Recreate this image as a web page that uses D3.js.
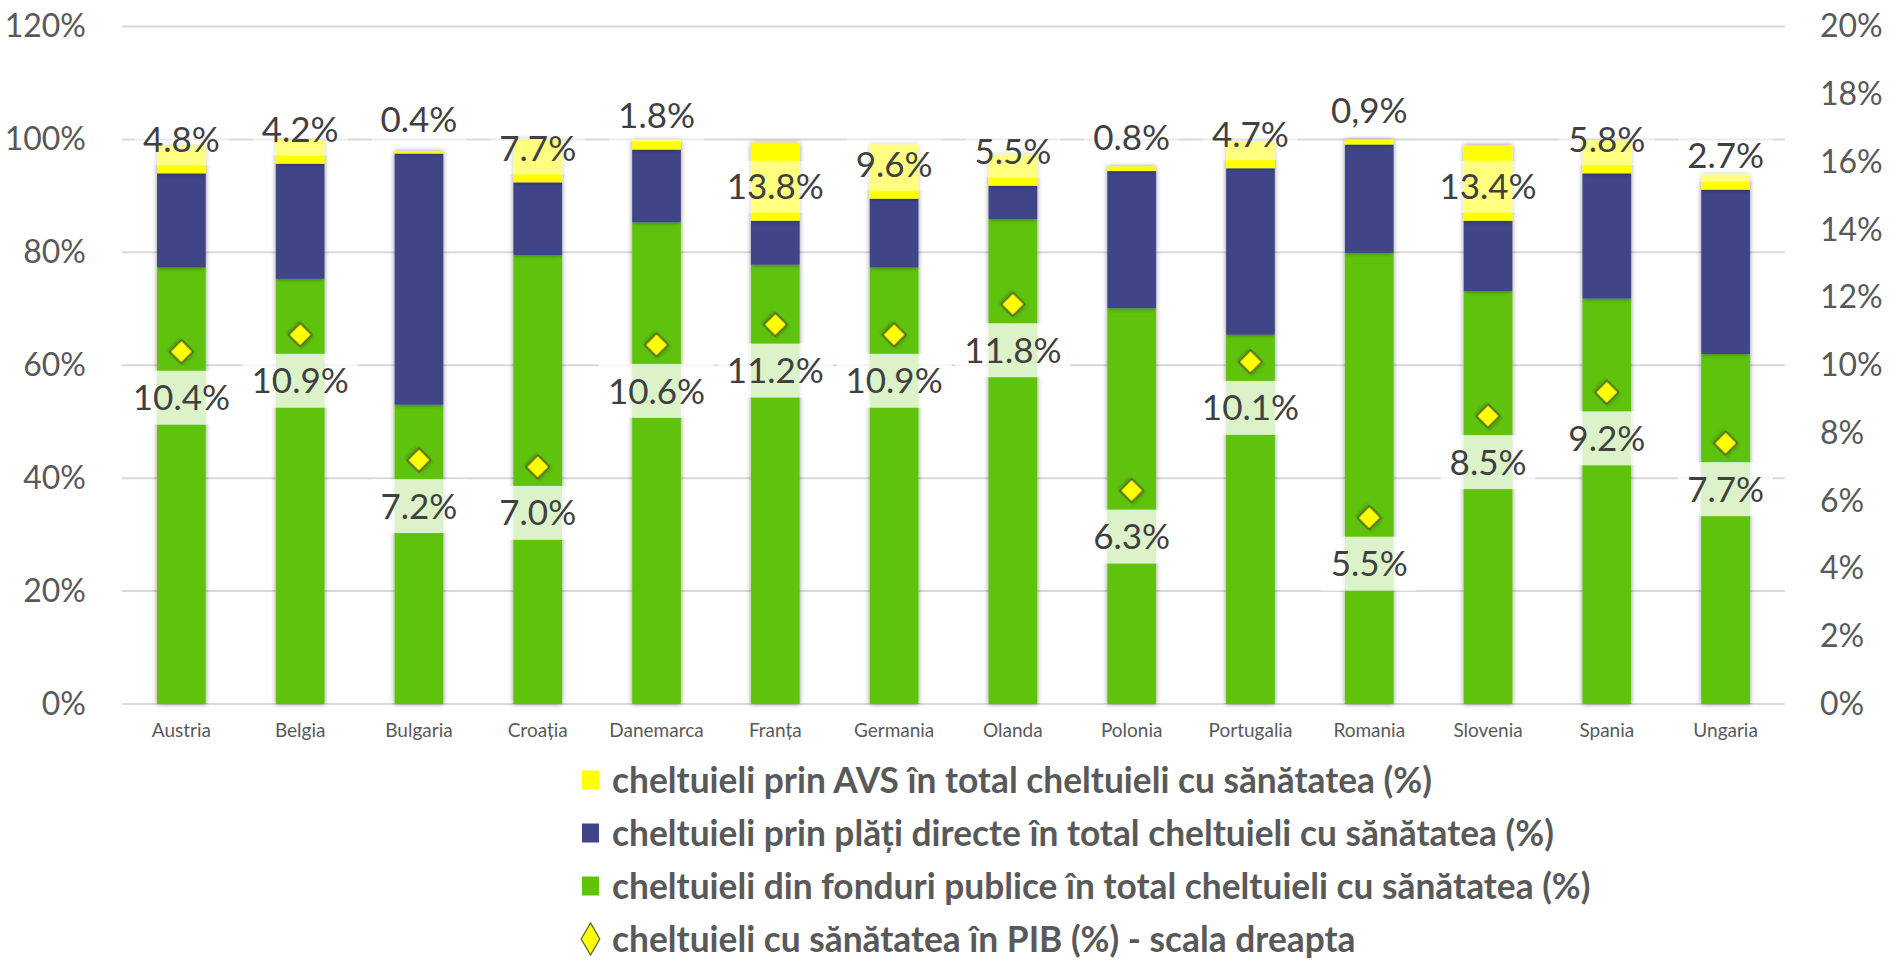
<!DOCTYPE html>
<html lang="ro">
<head>
<meta charset="UTF-8" />
<title>Cheltuieli cu sanatatea</title>
<script src="https://cdn.jsdelivr.net/npm/d3@7"></script>
<style>
  body { margin: 0; background: #fff; }
  svg { display: block; font-family: Lato, "Open Sans", sans-serif; }
</style>
</head>
<body>
<script>
// values (left scale: share of total health spending)
var tari = ["Austria", "Belgia", "Bulgaria", "Croația", "Danemarca", "Franța", "Germania",
            "Olanda", "Polonia", "Portugalia", "Romania", "Slovenia", "Spania", "Ungaria"];
var publice = [77.3, 75.3, 53.0, 79.5, 85.3, 77.8, 77.3, 85.9, 70.1, 65.4, 79.9, 73.1, 71.8, 62.0];
var directe = [16.7, 20.4, 44.5, 12.9, 12.9, 7.8, 12.2, 5.9, 24.3, 29.5, 19.2, 12.5, 22.2, 29.1];
var avs = [4.8, 4.2, 0.4, 7.7, 1.8, 13.8, 9.6, 5.5, 0.8, 4.7, 0.9, 13.4, 5.8, 2.7];
var avsText = ["4.8%", "4.2%", "0.4%", "7.7%", "1.8%", "13.8%", "9.6%", "5.5%", "0.8%", "4.7%", "0,9%", "13.4%", "5.8%", "2.7%"];
// right scale: health spending in GDP
var pib = [10.4, 10.9, 7.2, 7.0, 10.6, 11.2, 10.9, 11.8, 6.3, 10.1, 5.5, 8.5, 9.2, 7.7];

var ticksLeft = [0, 20, 40, 60, 80, 100, 120];
var ticksRight = [0, 2, 4, 6, 8, 10, 12, 14, 16, 18, 20];

var legendItems = [
  "cheltuieli prin AVS în total cheltuieli cu sănătatea (%)",
  "cheltuieli prin plăți directe în total cheltuieli cu sănătatea (%)",
  "cheltuieli din fonduri publice în total cheltuieli cu sănătatea (%)",
  "cheltuieli cu sănătatea în PIB (%) - scala dreapta"
];

var width = 1890, height = 961;
var plotLeft = 122, plotRight = 1785, plotTop = 26.5, plotBottom = 704;

var culori = { publice: "#5ec30b", directe: "#404488", avs: "#ffff00" };

var data = tari.map(function(t, i) {
  return { tara: t, publice: publice[i], directe: directe[i], avs: avs[i], pib: pib[i], eticheta: avsText[i] };
});

var svg = d3.select("body").append("svg")
  .attr("width", width)
  .attr("height", height);

var defs = svg.append("defs");
var umbra = defs.append("filter").attr("id", "umbra")
  .attr("x", "-30%").attr("y", "-10%").attr("width", "160%").attr("height", "120%");
umbra.append("feDropShadow")
  .attr("dx", 0).attr("dy", 0).attr("stdDeviation", 2.5)
  .attr("flood-color", "#000").attr("flood-opacity", 0.45);

var x = d3.scaleBand()
  .domain(tari)
  .range([plotLeft, plotRight])
  .paddingInner(0.59)
  .paddingOuter(0.295);

var y = d3.scaleLinear().domain([0, 120]).range([plotBottom, plotTop]);
var y2 = d3.scaleLinear().domain([0, 20]).range([plotBottom, plotTop]);

// gridlines
svg.append("g").selectAll("line")
  .data(ticksLeft)
  .enter().append("line")
  .attr("x1", plotLeft).attr("x2", plotRight)
  .attr("y1", function(d) { return y(d); })
  .attr("y2", function(d) { return y(d); })
  .attr("stroke", "#d9d9d9")
  .attr("stroke-width", 2);

// axes
var axaStanga = svg.append("g")
  .attr("transform", "translate(" + plotLeft + ",0)")
  .call(d3.axisLeft(y).tickValues(ticksLeft).tickSize(0).tickPadding(36)
    .tickFormat(function(d) { return d + "%"; }));

var axaDreapta = svg.append("g")
  .attr("transform", "translate(" + plotRight + ",0)")
  .call(d3.axisRight(y2).tickValues(ticksRight).tickSize(0).tickPadding(35)
    .tickFormat(function(d) { return d + "%"; }));

[axaStanga, axaDreapta].forEach(function(a) {
  a.select(".domain").remove();
  a.selectAll("text").style("font-size", "32px").attr("fill", "#595959")
    .style("font-family", "Lato, sans-serif");
});

var axaJos = svg.append("g")
  .attr("transform", "translate(0," + plotBottom + ")")
  .call(d3.axisBottom(x).tickSize(0).tickPadding(20));
axaJos.select(".domain").remove();
axaJos.selectAll("text").style("font-size", "19px").attr("fill", "#595959")
  .style("font-family", "Lato, sans-serif");

// stacked bars
var stiva = d3.stack().keys(["publice", "directe", "avs"])(data);

var serii = svg.append("g").selectAll("g")
  .data(stiva)
  .enter().append("g")
  .attr("fill", function(d) { return culori[d.key]; })
  .attr("filter", "url(#umbra)");

serii.selectAll("rect")
  .data(function(d) { return d; })
  .enter().append("rect")
  .attr("x", function(d) { return x(d.data.tara); })
  .attr("width", x.bandwidth())
  .attr("y", function(d) { return y(d[1]); })
  .attr("height", function(d) { return y(d[0]) - y(d[1]); });

// AVS labels (inside base of the yellow segment)
var etAvs = svg.append("g").selectAll("g")
  .data(stiva[2])
  .enter().append("g")
  .attr("transform", function(d) {
    return "translate(" + (x(d.data.tara) + x.bandwidth() / 2) + "," + (y(d[0]) - 8 - 26) + ")";
  });

etAvs.append("text")
  .attr("text-anchor", "middle")
  .attr("dy", "0.36em")
  .attr("fill", "#404040")
  .style("font-size", "35px")
  .text(function(d) { return d.data.eticheta; });

etAvs.insert("rect", "text")
  .each(function() {
    var w = this.parentNode.querySelector("text").getComputedTextLength() + 18;
    d3.select(this).attr("x", -w / 2).attr("width", w);
  })
  .attr("y", -26).attr("height", 52)
  .attr("fill", "#fff").attr("fill-opacity", 0.5);

// GDP markers on the right scale
var puncte = svg.append("g");

var etPib = puncte.selectAll("g.et")
  .data(data)
  .enter().append("g")
  .attr("class", "et")
  .attr("transform", function(d) {
    return "translate(" + (x(d.tara) + x.bandwidth() / 2) + "," + (y2(d.pib) + 46) + ")";
  });

etPib.append("text")
  .attr("text-anchor", "middle")
  .attr("dy", "0.36em")
  .attr("fill", "#404040")
  .style("font-size", "35px")
  .text(function(d) { return d.pib.toFixed(1) + "%"; });

etPib.insert("rect", "text")
  .each(function() {
    var w = this.parentNode.querySelector("text").getComputedTextLength() + 18;
    d3.select(this).attr("x", -w / 2).attr("width", w);
  })
  .attr("y", -27).attr("height", 54)
  .attr("fill", "#fff").attr("fill-opacity", 0.78);

var romb = d3.symbol().type(d3.symbolSquare).size(265);

puncte.selectAll("path")
  .data(data)
  .enter().append("path")
  .attr("d", romb)
  .attr("transform", function(d) {
    return "translate(" + (x(d.tara) + x.bandwidth() / 2) + "," + y2(d.pib) + ") rotate(45)";
  })
  .attr("fill", "#ffff00")
  .attr("stroke", "#4f6228")
  .attr("stroke-width", 1.5)
  .attr("filter", "url(#umbra)");

// legend
var legenda = svg.append("g").attr("transform", "translate(582,780)");
var culoriLegenda = [culori.avs, culori.directe, culori.publice, null];

var rand = legenda.selectAll("g")
  .data(legendItems)
  .enter().append("g")
  .attr("transform", function(d, i) { return "translate(0," + (i * 53) + ")"; });

rand.filter(function(d, i) { return i < 3; })
  .append("rect")
  .attr("x", 0).attr("y", -9.5)
  .attr("width", 17).attr("height", 19)
  .attr("fill", function(d, i) { return culoriLegenda[i]; });

rand.filter(function(d, i) { return i === 3; })
  .append("path")
  .attr("d", d3.symbol().type(d3.symbolDiamond).size(300))
  .attr("transform", "translate(8.5,0)")
  .attr("fill", "#ffff00")
  .attr("stroke", "#4f6228")
  .attr("stroke-width", 1.2);

rand.append("text")
  .attr("x", 30)
  .attr("dy", "0.36em")
  .attr("fill", "#595959")
  .style("font-size", "35.3px")
  .style("font-weight", "bold")
  .text(function(d) { return d; });
</script>
</body>
</html>
